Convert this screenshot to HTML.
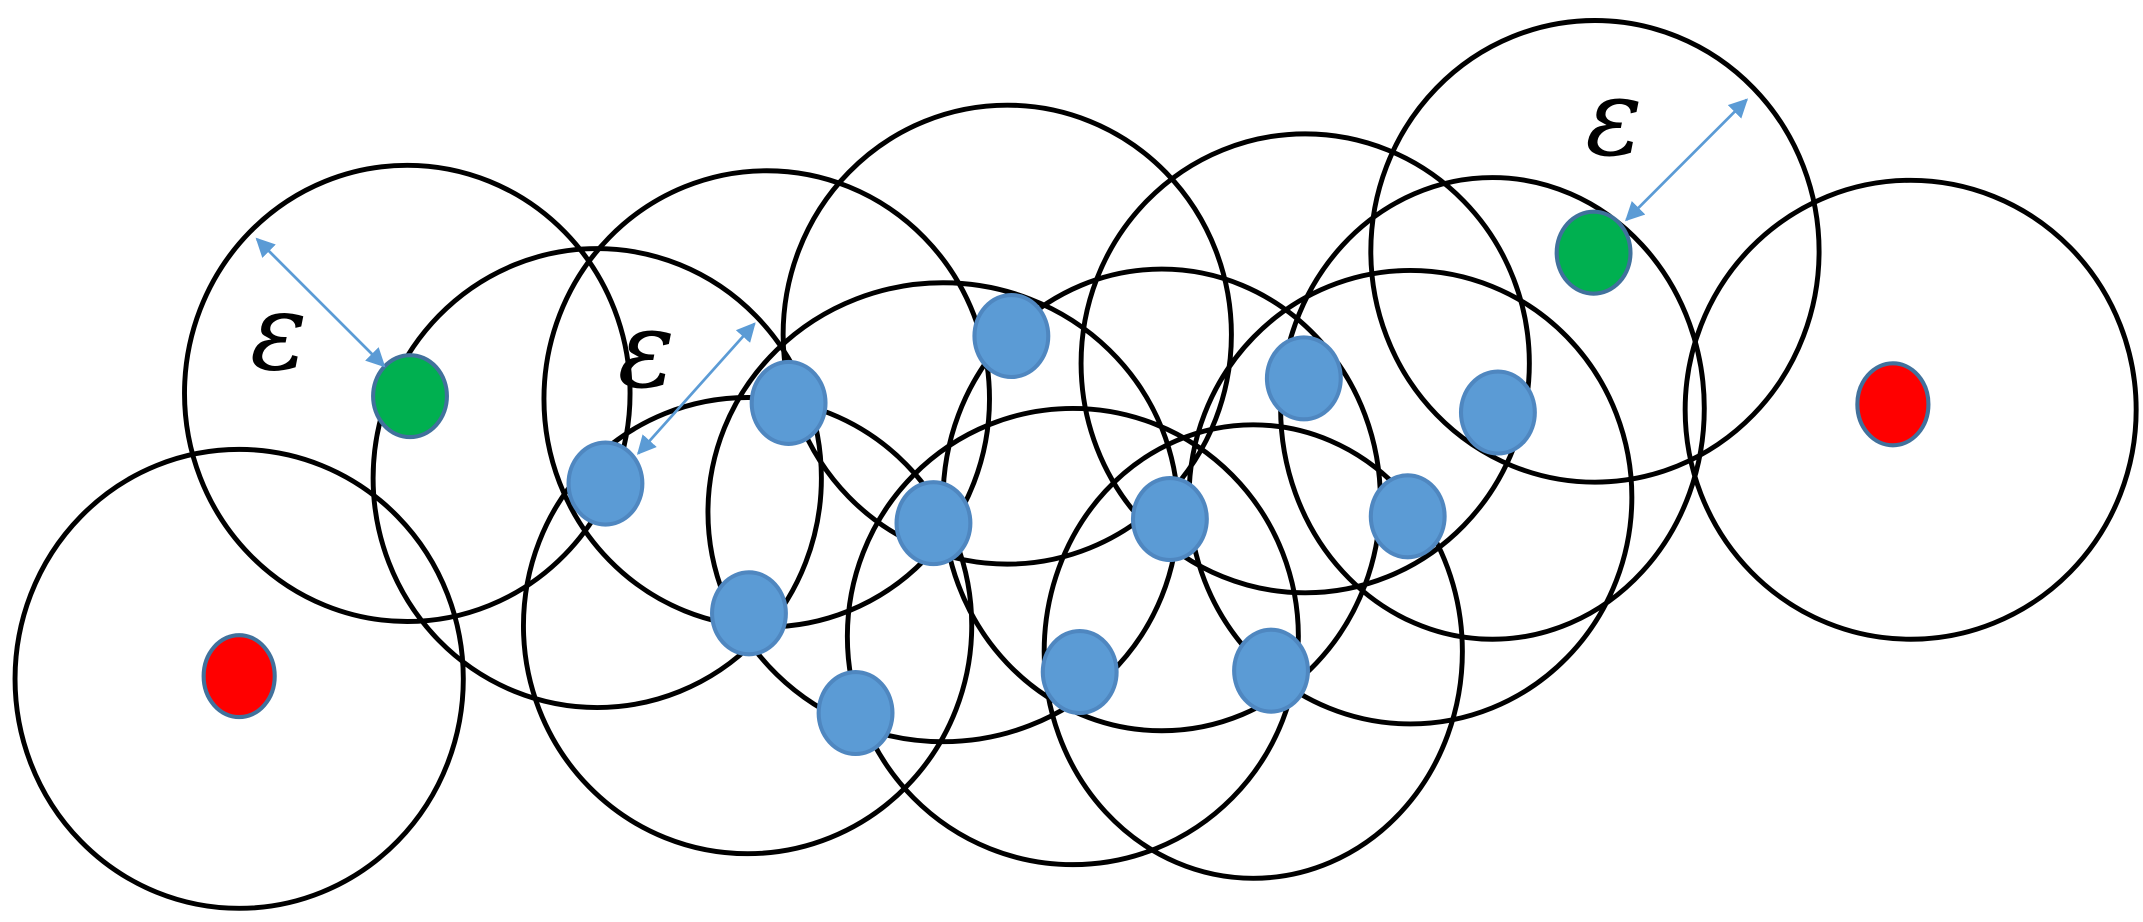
<!DOCTYPE html>
<html><head><style>html,body{margin:0;padding:0;background:#fff}svg{display:block}</style></head>
<body>
<svg width="2143" height="922" viewBox="0 0 1568 675" preserveAspectRatio="none" xmlns="http://www.w3.org/2000/svg">
<defs>
<marker id="a" viewBox="0 0 10 10" refX="9" refY="5" markerWidth="7" markerHeight="7" orient="auto-start-reverse"><path d="M0,0L10,5L0,10z" fill="#5b9bd5"/></marker>
</defs>
<g fill="none" stroke="#000" stroke-width="3.6">
<ellipse cx="175" cy="497" rx="164" ry="168"/>
<ellipse cx="298" cy="288" rx="163" ry="167"/>
<ellipse cx="437" cy="350" rx="164" ry="168"/>
<ellipse cx="561" cy="292" rx="163" ry="167"/>
<ellipse cx="547" cy="458" rx="164" ry="167"/>
<ellipse cx="737" cy="245" rx="164" ry="168"/>
<ellipse cx="690" cy="375" rx="172" ry="168"/>
<ellipse cx="785" cy="466" rx="165" ry="167"/>
<ellipse cx="850" cy="366" rx="160" ry="169"/>
<ellipse cx="955" cy="266" rx="164" ry="168"/>
<ellipse cx="917" cy="477" rx="153" ry="166"/>
<ellipse cx="1032" cy="364" rx="162" ry="166"/>
<ellipse cx="1092" cy="299" rx="155" ry="169"/>
<ellipse cx="1167" cy="184" rx="164" ry="169"/>
<ellipse cx="1398" cy="300" rx="165" ry="168"/>
</g>
<g fill="#5b9bd5" stroke="#4f87c0" stroke-width="3">
<ellipse cx="443" cy="354" rx="27" ry="30"/>
<ellipse cx="577" cy="295" rx="27" ry="30"/>
<ellipse cx="740" cy="246" rx="27" ry="30"/>
<ellipse cx="548" cy="449" rx="27" ry="30"/>
<ellipse cx="683" cy="383" rx="27" ry="30"/>
<ellipse cx="626" cy="522" rx="27" ry="30"/>
<ellipse cx="856" cy="380" rx="27" ry="30"/>
<ellipse cx="790" cy="492" rx="27" ry="30"/>
<ellipse cx="930" cy="491" rx="27" ry="30"/>
<ellipse cx="954" cy="277" rx="27" ry="30"/>
<ellipse cx="1030" cy="378" rx="27" ry="30"/>
<ellipse cx="1096" cy="302" rx="27" ry="30"/>
</g>
<g stroke="#41719c" stroke-width="3">
<ellipse cx="300" cy="290" rx="27" ry="30" fill="#00b050"/>
<ellipse cx="1166" cy="185" rx="27" ry="30" fill="#00b050"/>
<ellipse cx="175" cy="495" rx="26" ry="30" fill="#ff0000"/>
<ellipse cx="1385" cy="296" rx="26" ry="30" fill="#ff0000"/>
</g>
<g stroke="#5b9bd5" stroke-width="2" marker-start="url(#a)" marker-end="url(#a)">
<line x1="188" y1="175" x2="281" y2="268"/>
<line x1="552" y1="237" x2="467" y2="332"/>
<line x1="1278" y1="73" x2="1190" y2="161"/>
</g>
<g font-family="DejaVu Serif, serif" font-style="italic" font-size="78" fill="#000">
<text x="183" y="270">ε</text>
<text x="452" y="283">ε</text>
<text x="1160" y="113">ε</text>
</g>
</svg>
</body></html>
